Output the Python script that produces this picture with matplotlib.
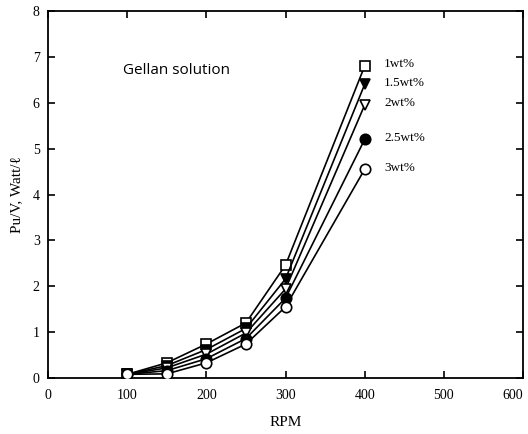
import matplotlib
matplotlib.use("Agg")
import matplotlib.pyplot as plt

rpm = [100, 150, 200, 250, 300, 400]
p_1 = [0.08, 0.33, 0.74, 1.2, 2.46, 6.8]
p_15 = [0.08, 0.27, 0.62, 1.08, 2.16, 6.4]
p_2 = [0.08, 0.22, 0.52, 0.98, 1.94, 5.95]
p_25 = [0.08, 0.16, 0.42, 0.86, 1.74, 5.2]
p_3 = [0.08, 0.09, 0.33, 0.74, 1.55, 4.55]
labels = ["1wt%", "1.5wt%", "2wt%", "2.5wt%", "3wt%"]
xticks = [0, 100, 200, 300, 400, 500, 600]
yticks = [0, 1, 2, 3, 4, 5, 6, 7, 8]

plt.rcParams['font.family'] = ['Liberation Serif', 'DejaVu Serif']

fig = plt.figure(figsize=(5.28, 4.34), dpi=100)
ax = fig.add_axes([48/528, 56/434, 475/528, 367/434])

series = [p_1, p_15, p_2, p_25, p_3]
styles = [('s', 'white'), ('v', 'black'), ('v', 'white'), ('o', 'black'), ('o', 'white')]
for vals, (m, fc), lab in zip(series, styles, labels):
    ax.plot(rpm, vals, color='black', lw=1.2, marker=m, mfc=fc, mec='black',
            mew=1.2, ms=6.5 if m != 'o' else 7.5, zorder=3)
    ax.annotate(lab, xy=(rpm[-1], vals[-1]), xytext=(14, 1.2), textcoords='offset points',
                fontsize=9.5, va='center', ha='left')

ax.text(0.158, 0.839, "Gellan solution", transform=ax.transAxes, fontsize=11,
        family=['Open Sans', 'DejaVu Sans'], va='center', color='black')

ax.set_xlim(0, 600)
ax.set_ylim(0, 8)
ax.set_xticks(xticks)
ax.set_yticks(yticks)
ax.tick_params(direction='in', top=True, right=True, length=5, width=1.2, labelsize=10)
ax.tick_params(axis='x', pad=8)
ax.tick_params(axis='y', pad=6)
xl = ax.get_xticklabels()
xl[-1].set_ha('right')
for s in ax.spines.values():
    s.set_linewidth(1.3)
ax.set_xlabel("RPM", fontsize=11, labelpad=10)
ax.set_ylabel("Pu/V, Watt/ℓ", fontsize=11, labelpad=7)

fig.savefig("out.png", dpi=100)
